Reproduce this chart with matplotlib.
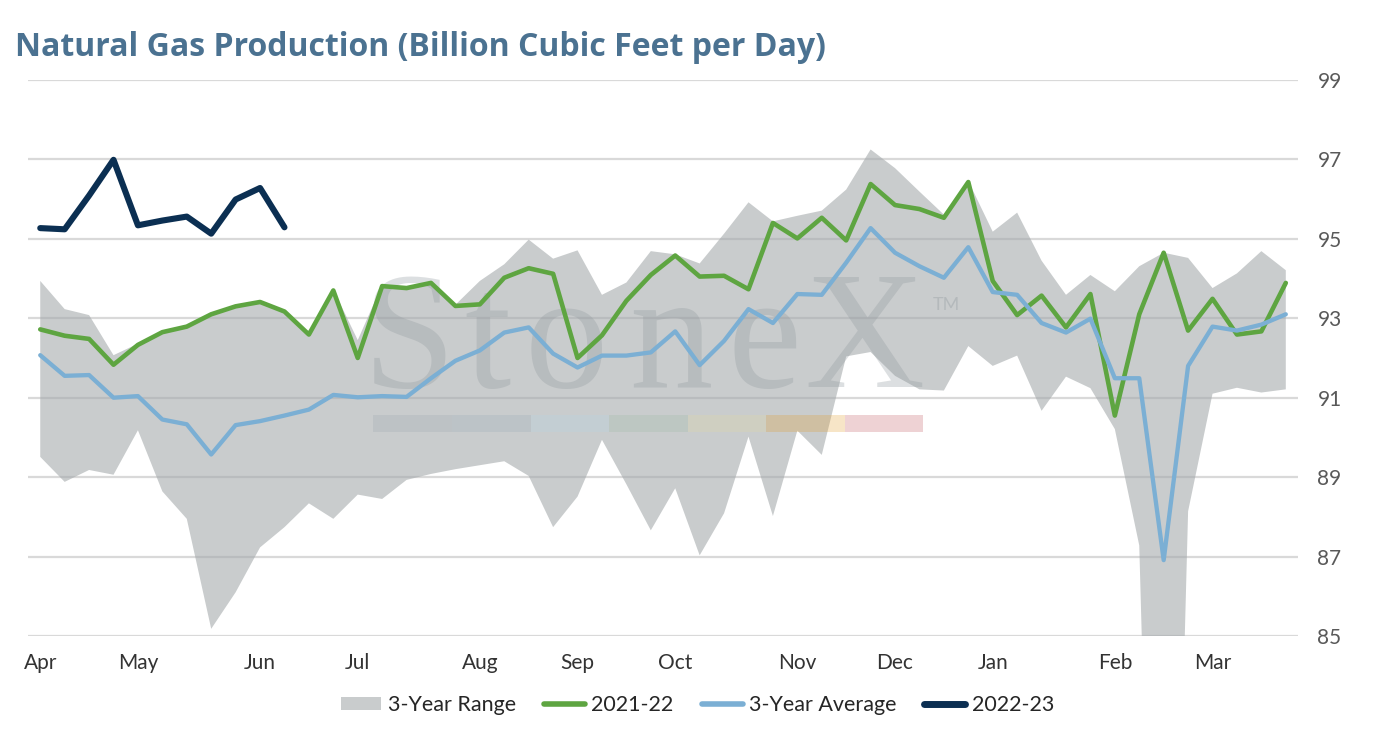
import matplotlib.pyplot as plt
import numpy as np
from matplotlib.patches import Rectangle, Patch
from matplotlib.lines import Line2D

# ---------------- data (weekly, Apr -> Mar) ----------------
month_pos = [0, 4, 9, 13, 18, 22, 26, 31, 35, 39, 44, 48]
month_labels = ['Apr', 'May', 'Jun', 'Jul', 'Aug', 'Sep', 'Oct', 'Nov', 'Dec', 'Jan', 'Feb', 'Mar']
y_ticks = [85, 87, 89, 91, 93, 95, 97, 99]

range_hi = [93.94, 93.23, 93.08, 92.07, 92.36, 92.68, 92.82, 93.13, 93.33, 93.44,
            93.20, 92.62, 93.73, 92.45, 93.84, 93.79, 93.92, 93.34, 93.94, 94.36,
            94.98, 94.50, 94.71, 93.59, 93.90, 94.69, 94.61, 94.38, 95.13, 95.92,
            95.44, 95.58, 95.71, 96.24, 97.25, 96.78, 96.19, 95.61, 96.46, 95.18,
            95.66, 94.45, 93.59, 94.09, 93.68, 94.31, 94.65, 94.52, 93.76, 94.13,
            94.69, 94.21]
range_lo = [89.51, 88.88, 89.18, 89.06, 90.18, 88.64, 87.95, 85.18, 86.10, 87.23,
            87.74, 88.34, 87.95, 88.56, 88.45, 88.93, 89.08, 89.20, 89.30, 89.40,
            89.03, 87.74, 88.51, 89.94, 88.82, 87.66, 88.72, 87.03, 88.09, 90.02,
            88.02, 90.17, 89.56, 92.04, 92.15, 91.55, 91.21, 91.18, 92.30, 91.80,
            92.06, 90.67, 91.53, 91.24, 90.21, 87.28, 65.00, 88.14, 91.10, 91.25,
            91.13, 91.21]
avg_3yr = [92.07, 91.55, 91.57, 91.00, 91.04, 90.45, 90.33, 89.57, 90.31, 90.41,
           90.55, 90.70, 91.07, 91.01, 91.04, 91.02, 91.49, 91.93, 92.19, 92.64,
           92.77, 92.11, 91.76, 92.06, 92.06, 92.14, 92.67, 91.82, 92.43, 93.23,
           92.88, 93.61, 93.59, 94.40, 95.27, 94.65, 94.31, 94.02, 94.79, 93.66,
           93.59, 92.88, 92.64, 92.99, 91.49, 91.49, 86.91, 91.80, 92.79, 92.69,
           92.84, 93.10]
prod_2122 = [92.72, 92.56, 92.48, 91.83, 92.33, 92.65, 92.79, 93.10, 93.30, 93.41,
             93.17, 92.59, 93.70, 92.00, 93.81, 93.76, 93.89, 93.31, 93.35, 94.02,
             94.26, 94.12, 92.00, 92.57, 93.44, 94.09, 94.58, 94.05, 94.07, 93.73,
             95.40, 95.01, 95.53, 94.96, 96.38, 95.85, 95.75, 95.53, 96.43, 93.94,
             93.08, 93.57, 92.77, 93.61, 90.55, 93.10, 94.65, 92.69, 93.49, 92.59,
             92.67, 93.89]
prod_2223 = [95.27, 95.24, 96.09, 96.99, 95.34, 95.46, 95.56, 95.13, 95.99, 96.28, 95.29]

# ---------------- style ----------------
plt.rcParams['font.family'] = ['Lato', 'DejaVu Sans']
c_range = '#a5aaac'
c_2122 = '#5ea541'
c_avg = '#7bafd4'
c_2223 = '#0b2f52'
c_title = '#4b7291'

fig = plt.figure(figsize=(13.81, 7.29), dpi=100)
ax = fig.add_axes([0.0203, 0.1276, 0.9196, 0.7627])

x_all = np.arange(len(range_hi))
ax.fill_between(x_all, range_lo, range_hi, color=c_range, alpha=0.6, lw=0, zorder=2)
ax.plot(x_all, prod_2122, color=c_2122, lw=3.3, solid_joinstyle='round',
        solid_capstyle='round', zorder=5)
ax.plot(x_all, avg_3yr, color=c_avg, lw=3.1, solid_joinstyle='round',
        solid_capstyle='round', zorder=5)
ax.plot(np.arange(len(prod_2223)), prod_2223, color=c_2223, lw=4.4,
        solid_joinstyle='round', solid_capstyle='round', zorder=6)

# watermark (logo text + colour bar)
wm_letters = ['S', 't', 'o', 'n', 'e', 'X']
wm_x = [0.300, 0.362, 0.424, 0.506, 0.580, 0.659]
for ch, xx in zip(wm_letters, wm_x):
    ax.text(xx, 0.448, ch, transform=ax.transAxes, ha='center', va='baseline',
            fontsize=120, family='Liberation Serif', color='#8e979c', alpha=0.3, zorder=3)
ax.text(0.712, 0.595, 'TM', transform=ax.transAxes, ha='left', va='center',
        fontsize=13, color='#8e979c', alpha=0.35, zorder=3)
bar_cols = ['#9da8b1', '#99acb9', '#b5d4e5', '#9dbca5', '#e1d8a1', '#e39b23', '#bf4f57']
bw = (0.705 - 0.272) / len(bar_cols)
for k, bc in enumerate(bar_cols):
    ax.add_patch(Rectangle((0.272 + k * bw, 0.367), bw, 0.030, transform=ax.transAxes,
                           facecolor=bc, alpha=0.25, lw=0, zorder=3))

ax.set_xlim(-0.5, len(x_all) - 0.5)
ax.set_ylim(85, 99)
ax.set_yticks(y_ticks)
ax.yaxis.tick_right()
ax.grid(axis='y', color='#d9d9d9', lw=1.6, zorder=1)
ax.set_axisbelow(True)
ax.set_xticks(month_pos)
ax.set_xticklabels(month_labels)
ax.tick_params(axis='x', length=0, pad=12, labelsize=15, labelcolor='#333333')
ax.tick_params(axis='y', length=0, pad=14, labelsize=15, labelcolor='#595959')
for s in ax.spines.values():
    s.set_visible(False)

fig.text(0.011, 0.935, 'Natural Gas Production (Billion Cubic Feet per Day)',
         fontsize=23, fontweight='bold', family='Open Sans', color=c_title,
         ha='left', va='center')

handles = [Patch(facecolor='#c9cccd', edgecolor='none'),
           Line2D([], [], color=c_2122, lw=4, solid_capstyle='round'),
           Line2D([], [], color=c_avg, lw=4, solid_capstyle='round'),
           Line2D([], [], color=c_2223, lw=5, solid_capstyle='round')]
labels = ['3-Year Range', '2021-22', '3-Year Average', '2022-23']
fig.legend(handles, labels, loc='center', bbox_to_anchor=(0.505, 0.033), ncol=4,
           frameon=False, fontsize=15.5, handlelength=1.9, handleheight=0.6,
           handletextpad=0.3, columnspacing=1.3, labelcolor='#262626')

fig.savefig('out.png', dpi=100)
